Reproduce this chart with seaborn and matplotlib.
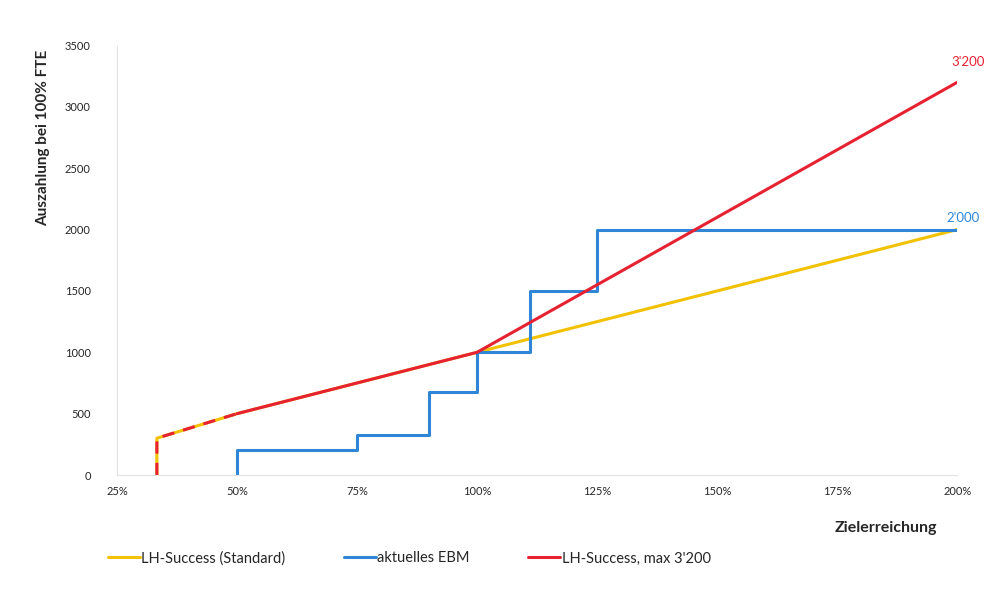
import seaborn as sns
import matplotlib.pyplot as plt

# Zielerreichung in %, Auszahlung
std_x = [33.3, 33.3, 50, 100, 200]
std_y = [0, 300, 500, 1000, 2000]

max_x = [33.3, 33.3, 50, 100, 200]
max_y = [0, 300, 500, 1000, 3200]

ebm_x = [50, 50, 75, 90, 100, 111.1, 125, 200]
ebm_y = [0, 200, 330, 680, 1000, 1500, 2000, 2000]

x_ticks = [25, 50, 75, 100, 125, 150, 175, 200]
y_ticks = [0, 500, 1000, 1500, 2000, 2500, 3000, 3500]

yellow = "#F2C200"
blue = "#2F86D6"
red = "#E62232"

sns.set_style("white")
plt.rcParams['font.family'] = ['Lato', 'DejaVu Sans']

fig = plt.figure(figsize=(9.96, 5.99), dpi=100)
ax = fig.add_axes([0.1175, 0.207, 0.8435, 0.717])

sns.lineplot(x=std_x, y=std_y, color=yellow, linewidth=2.2, sort=False,
             estimator=None, ax=ax, label="LH-Success (Standard)")
sns.lineplot(x=ebm_x, y=ebm_y, color=blue, linewidth=2.2, sort=False,
             estimator=None, drawstyle="steps-post", ax=ax, label="aktuelles EBM")
# red line: dashed over the yellow where both coincide, solid afterwards
sns.lineplot(x=max_x[:3], y=max_y[:3], color=red, linewidth=2.2, sort=False,
             estimator=None, linestyle=(0, (4, 3)), ax=ax, legend=False)
sns.lineplot(x=max_x[2:], y=max_y[2:], color=red, linewidth=2.2, sort=False,
             estimator=None, ax=ax, label="LH-Success, max 3'200")

ax.annotate("3'200", xy=(max_x[-1], max_y[-1]), xytext=(8, 10), textcoords="offset points",
            ha="center", va="bottom", color=red, fontsize=9.5)
ax.annotate("2'000", xy=(ebm_x[-1], ebm_y[-1]), xytext=(4, 4), textcoords="offset points",
            ha="center", va="bottom", color=blue, fontsize=9.5)

ax.set_xlim(25, 200)
ax.set_ylim(0, 3500)
ax.set_xticks(x_ticks)
ax.set_xticklabels([f"{v}%" for v in x_ticks], fontsize=8)
ax.set_yticks(y_ticks)
ax.set_yticklabels([str(v) for v in y_ticks], fontsize=8)
ax.tick_params(axis="both", length=3, color="#cccccc")
ax.tick_params(axis="y", pad=16)
ax.tick_params(axis="x", pad=5)

for side in ["top", "right"]:
    ax.spines[side].set_visible(False)
for side in ["left", "bottom"]:
    ax.spines[side].set_color("#e2e2e2")
    ax.spines[side].set_linewidth(0.8)

ax.set_ylabel("Auszahlung bei 100% FTE", fontsize=11, fontweight="bold")
ax.yaxis.set_label_coords(-0.080, 0.786)
ax.set_xlabel("Zielerreichung", fontsize=11.5, fontweight="bold")
ax.xaxis.set_label_coords(0.9155, -0.108)

handles, labels = ax.get_legend_handles_labels()
ax.get_legend().remove()
fig.legend(handles, labels, loc="center", bbox_to_anchor=(0.411, 0.068), ncol=3,
           frameon=False, fontsize=10.5, handlelength=2.2, handletextpad=0.1,
           columnspacing=4.0)

fig.savefig("out.png", dpi=100)
